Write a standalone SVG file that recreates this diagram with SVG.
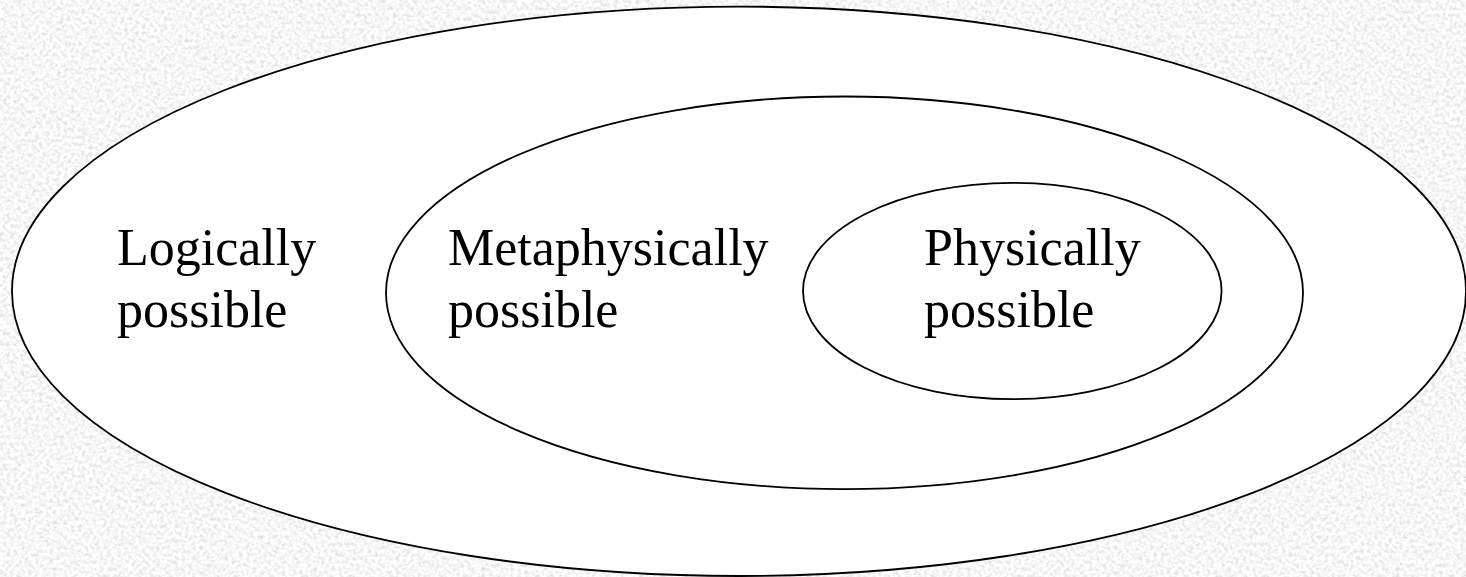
<svg xmlns="http://www.w3.org/2000/svg" width="1466" height="577" viewBox="0 0 1466 577">
  <defs>
    <!-- granite-like grey paper texture -->
    <filter id="grain" x="0" y="0" width="100%" height="100%" filterUnits="userSpaceOnUse">
      <feTurbulence type="fractalNoise" baseFrequency="0.28" numOctaves="2" seed="7" result="n"/>
      <feColorMatrix in="n" type="matrix" values="0.55 0 0 0 0.65  0.55 0 0 0 0.65  0.55 0 0 0 0.65  0 0 0 0 1"/>
    </filter>
    <style>
      .set { fill: #ffffff; stroke: #000000; stroke-width: 1.8; }
      .label { font-family: "Liberation Serif", "Times New Roman", serif; font-size: 52px; fill: #000000; }
    </style>
  </defs>

  <rect x="0" y="0" width="1466" height="577" fill="#e6e6e6"/>
  <rect x="0" y="0" width="1466" height="577" filter="url(#grain)"/>

  <g id="logically-possible">
    <ellipse class="set" cx="739" cy="291.3" rx="727" ry="284.7"/>
    <text class="label" x="117" y="265">Logically</text>
    <text class="label" x="117" y="327">possible</text>
  </g>

  <g id="metaphysically-possible">
    <ellipse class="set" cx="844.5" cy="292.8" rx="458.5" ry="196.3"/>
    <text class="label" x="448" y="265">Metaphysically</text>
    <text class="label" x="448" y="327">possible</text>
  </g>

  <g id="physically-possible">
    <ellipse class="set" cx="1012.3" cy="291" rx="209.3" ry="108.2"/>
    <text class="label" x="924" y="265">Physically</text>
    <text class="label" x="924" y="327">possible</text>
  </g>

  <g id="connectors"></g>
</svg>
